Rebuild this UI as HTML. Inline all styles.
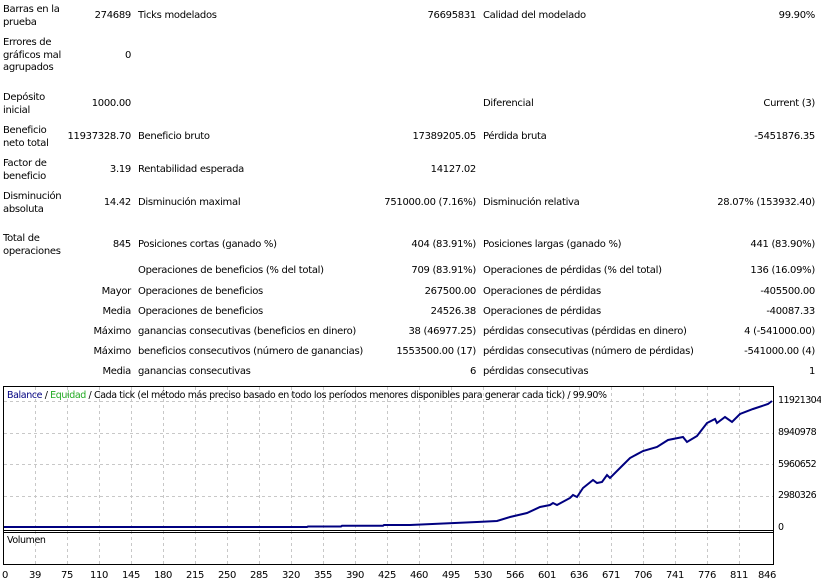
<!DOCTYPE html>
<html><head><meta charset="utf-8"><style>
body{margin:0;width:821px;height:583px;background:#fff;position:relative;overflow:hidden;font-family:"DejaVu Sans","Liberation Sans",sans-serif;font-size:10px;color:#000}
.t{position:absolute;line-height:12.5px;white-space:nowrap;letter-spacing:-0.3px}
.r{text-align:right}
</style></head><body>
<div class="t" style="left:3px;top:4px">Barras en la<br>prueba</div>
<div class="t" style="left:3px;top:37px">Errores de<br>gráficos mal<br>agrupados</div>
<div class="t" style="left:3px;top:92px">Depósito<br>inicial</div>
<div class="t" style="left:3px;top:125px">Beneficio<br>neto total</div>
<div class="t" style="left:3px;top:158px">Factor de<br>beneficio</div>
<div class="t" style="left:3px;top:191px">Disminución<br>absoluta</div>
<div class="t" style="left:3px;top:233px">Total de<br>operaciones</div>
<div class="t r" style="right:690px;top:10px">274689</div>
<div class="t r" style="right:690px;top:50px">0</div>
<div class="t r" style="right:690px;top:98px">1000.00</div>
<div class="t r" style="right:690px;top:131px">11937328.70</div>
<div class="t r" style="right:690px;top:164px">3.19</div>
<div class="t r" style="right:690px;top:197px">14.42</div>
<div class="t r" style="right:690px;top:239px">845</div>
<div class="t r" style="right:690px;top:286px">Mayor</div>
<div class="t r" style="right:690px;top:306px">Media</div>
<div class="t r" style="right:690px;top:326px">Máximo</div>
<div class="t r" style="right:690px;top:346px">Máximo</div>
<div class="t r" style="right:690px;top:366px">Media</div>
<div class="t" style="left:138px;top:10px">Ticks modelados</div>
<div class="t" style="left:138px;top:131px">Beneficio bruto</div>
<div class="t" style="left:138px;top:164px">Rentabilidad esperada</div>
<div class="t" style="left:138px;top:197px">Disminución maximal</div>
<div class="t" style="left:138px;top:239px">Posiciones cortas (ganado %)</div>
<div class="t" style="left:138px;top:265px">Operaciones de beneficios (% del total)</div>
<div class="t" style="left:138px;top:286px">Operaciones de beneficios</div>
<div class="t" style="left:138px;top:306px">Operaciones de beneficios</div>
<div class="t" style="left:138px;top:326px">ganancias consecutivas (beneficios en dinero)</div>
<div class="t" style="left:138px;top:346px">beneficios consecutivos (número de ganancias)</div>
<div class="t" style="left:138px;top:366px">ganancias consecutivas</div>
<div class="t r" style="right:345px;top:10px">76695831</div>
<div class="t r" style="right:345px;top:131px">17389205.05</div>
<div class="t r" style="right:345px;top:164px">14127.02</div>
<div class="t r" style="right:345px;top:197px">751000.00 (7.16%)</div>
<div class="t r" style="right:345px;top:239px">404 (83.91%)</div>
<div class="t r" style="right:345px;top:265px">709 (83.91%)</div>
<div class="t r" style="right:345px;top:286px">267500.00</div>
<div class="t r" style="right:345px;top:306px">24526.38</div>
<div class="t r" style="right:345px;top:326px">38 (46977.25)</div>
<div class="t r" style="right:345px;top:346px">1553500.00 (17)</div>
<div class="t r" style="right:345px;top:366px">6</div>
<div class="t" style="left:483px;top:10px">Calidad del modelado</div>
<div class="t" style="left:483px;top:98px">Diferencial</div>
<div class="t" style="left:483px;top:131px">Pérdida bruta</div>
<div class="t" style="left:483px;top:197px">Disminución relativa</div>
<div class="t" style="left:483px;top:239px">Posiciones largas (ganado %)</div>
<div class="t" style="left:483px;top:265px">Operaciones de pérdidas (% del total)</div>
<div class="t" style="left:483px;top:286px">Operaciones de pérdidas</div>
<div class="t" style="left:483px;top:306px">Operaciones de pérdidas</div>
<div class="t" style="left:483px;top:326px">pérdidas consecutivas (pérdidas en dinero)</div>
<div class="t" style="left:483px;top:346px">pérdidas consecutivas (número de pérdidas)</div>
<div class="t" style="left:483px;top:366px">pérdidas consecutivas</div>
<div class="t r" style="right:6px;top:10px">99.90%</div>
<div class="t r" style="right:6px;top:98px">Current (3)</div>
<div class="t r" style="right:6px;top:131px">-5451876.35</div>
<div class="t r" style="right:6px;top:197px">28.07% (153932.40)</div>
<div class="t r" style="right:6px;top:239px">441 (83.90%)</div>
<div class="t r" style="right:6px;top:265px">136 (16.09%)</div>
<div class="t r" style="right:6px;top:286px">-405500.00</div>
<div class="t r" style="right:6px;top:306px">-40087.33</div>
<div class="t r" style="right:6px;top:326px">4 (-541000.00)</div>
<div class="t r" style="right:6px;top:346px">-541000.00 (4)</div>
<div class="t r" style="right:6px;top:366px">1</div>

<svg style="position:absolute;left:0;top:0" width="821" height="583" font-family="DejaVu Sans, Liberation Sans, sans-serif" font-size="10" letter-spacing="-0.4">
<g stroke="#c8c8c8" stroke-dasharray="3,3" stroke-width="1">
<path d="M35.5 387V565M67.5 387V565M99.5 387V565M131.5 387V565M163.5 387V565M195.5 387V565M227.5 387V565M259.5 387V565M291.5 387V565M323.5 387V565M355.5 387V565M387.5 387V565M419.5 387V565M451.5 387V565M483.5 387V565M515.5 387V565M547.5 387V565M579.5 387V565M611.5 387V565M643.5 387V565M675.5 387V565M707.5 387V565M739.5 387V565"/>
<path d="M4 401.5H773M4 433.5H773M4 464.5H773M4 496.5H773"/>
</g>
<rect x="3.5" y="386.5" width="770" height="178" fill="none" stroke="#000"/>
<path d="M3 530.5H774M3 532.5H774" stroke="#000"/>
<polyline fill="none" stroke="#000080" stroke-width="2" points="4,527 307,527 308,526.5 341,526.5 342,525.8 383,525.8 384,525 410,525 477,522 497,521 510,517 527,513 540,507 550,505 553,503 557,505 570,498 573,495 577,497 583,488 593,480 597,483 602,482 607,475 610,478 623,465 630,458 643,451 657,447 668,440 683,437 687,442 697,436 707,423 715,419 717,423 725,417 732,422 740,414 753,409 768,404 772,401"/>
<text x="7" y="398" font-size="9.5"><tspan fill="#000080">Balance</tspan> / <tspan fill="#22aa22">Equidad</tspan> / Cada tick (el método más preciso basado en todo los períodos menores disponibles para generar cada tick)  / 99.90%</text>
<text x="7" y="543" font-size="9.5">Volumen</text>
<g font-size="9.5" letter-spacing="-0.6">
<text x="778" y="403">11921304</text><text x="778" y="435">8940978</text><text x="778" y="467">5960652</text><text x="778" y="498">2980326</text><text x="778" y="530">0</text>
</g>
<g font-size="10" text-anchor="middle">
<text x="5" y="578">0</text><text x="35" y="578">39</text><text x="67" y="578">75</text><text x="99" y="578">110</text><text x="131" y="578">145</text><text x="163" y="578">180</text><text x="195" y="578">215</text><text x="227" y="578">250</text><text x="259" y="578">285</text><text x="291" y="578">320</text><text x="323" y="578">355</text><text x="355" y="578">390</text><text x="387" y="578">425</text><text x="419" y="578">460</text><text x="451" y="578">495</text><text x="483" y="578">530</text><text x="515" y="578">566</text><text x="547" y="578">601</text><text x="579" y="578">636</text><text x="611" y="578">671</text><text x="643" y="578">706</text><text x="675" y="578">741</text><text x="707" y="578">776</text><text x="739" y="578">811</text><text x="767" y="578">846</text>
</g>
</svg>
</body></html>
